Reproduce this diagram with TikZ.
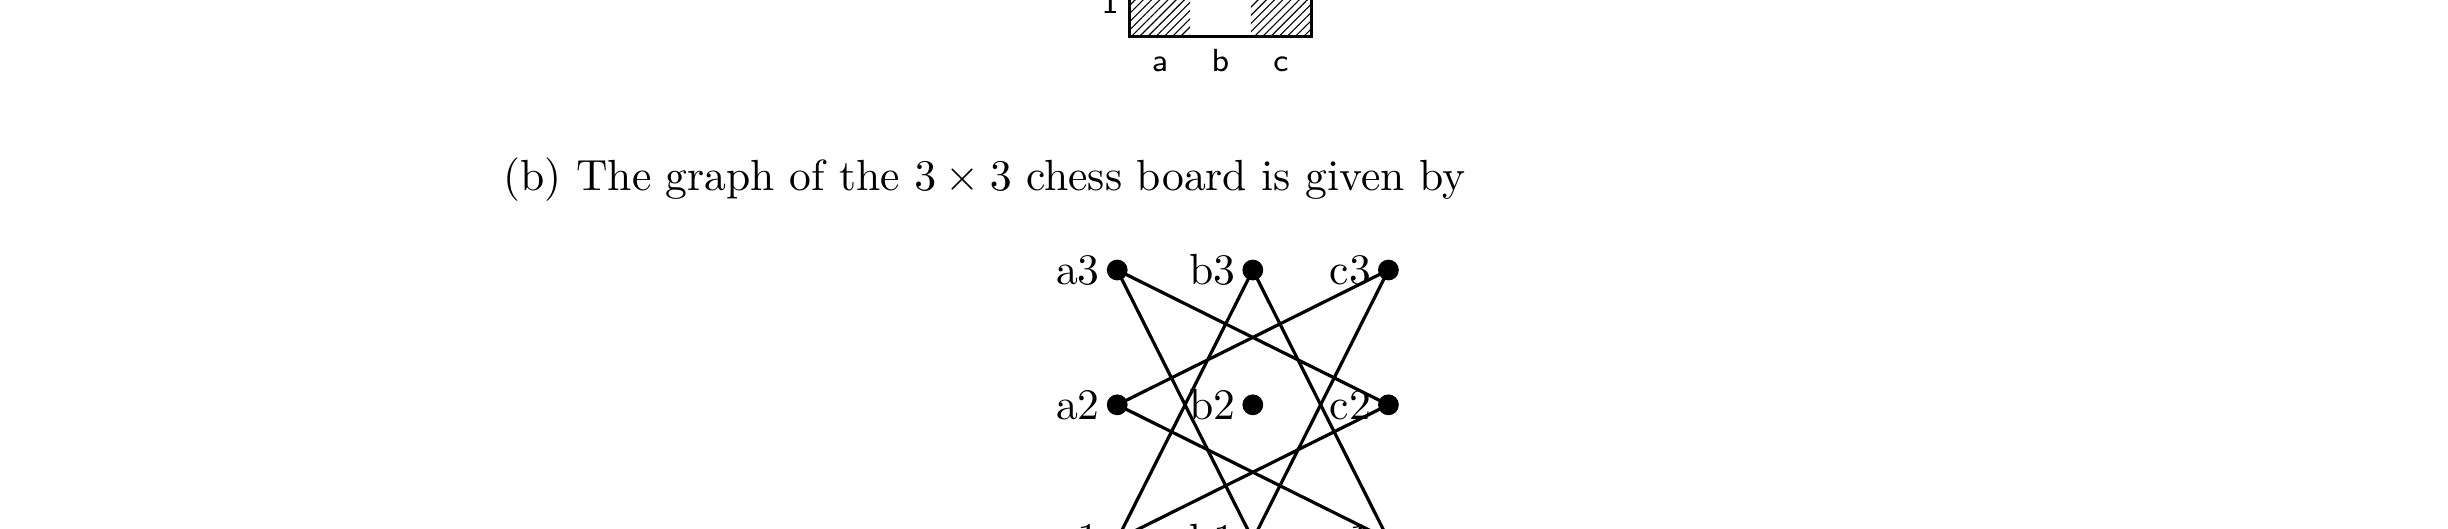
\documentclass[tikz,border=0pt]{standalone}
\usetikzlibrary{patterns.meta}
\begin{document}
\begin{tikzpicture}[x=1pt,y=1pt,
  font=\fontsize{10.9}{13.6}\selectfont,
  dot/.style={circle,fill=black,inner sep=0pt,minimum size=5.2pt},
  lab/.style={inner sep=1.4pt},
  edge/.style={line width=0.8pt},
  boardline/.style={line width=0.7pt},
  hatch/.style={pattern={Lines[angle=45,distance=1.45pt,line width=0.28pt]}},
  boardlabel/.style={font=\fontsize{8}{9.6}\sffamily\selectfont,inner sep=0pt}]
\useasboundingbox (0,0) rectangle (612,-132);
% board (partly visible)
\fill[hatch] (282.3,-9.17) rectangle (297.5,12);
\fill[hatch] (312.7,-9.17) rectangle (327.9,12);
\draw[boardline] (282.3,12) -- (282.3,-9.17) -- (327.9,-9.17) -- (327.9,12);
\node[boardlabel,anchor=base] (one) at (277.5,-3.4) {1};
\node[boardlabel,anchor=base] (la) at (290,-17.8) {a};
\node[boardlabel,anchor=base] (lb) at (305.1,-17.8) {b};
\node[boardlabel,anchor=base] (lc) at (320.2,-17.8) {c};
% text
\node[anchor=base west,inner sep=0pt] (txt) at (125.7,-47.5) {(b) The graph of the $3\times 3$ chess board is given by};
% graph
\node[dot,label={[lab]left:a3}] (a3) at (279.3,-67.5) {};
\node[dot,label={[lab]left:b3}] (b3) at (313.2,-67.5) {};
\node[dot,label={[lab]left:c3}] (c3) at (347.1,-67.5) {};
\node[dot,label={[lab]left:a2}] (a2) at (279.3,-101.2) {};
\node[dot,label={[lab]left:b2}] (b2) at (313.2,-101.2) {};
\node[dot,label={[lab]left:c2}] (c2) at (347.1,-101.2) {};
\node[dot,label={[lab]left:a1}] (a1) at (279.3,-134.9) {};
\node[dot,label={[lab]left:b1}] (b1) at (313.2,-134.9) {};
\node[dot,label={[lab]left:c1}] (c1) at (347.1,-134.9) {};
\draw[edge] (a3.center) -- (c2.center);
\draw[edge] (a3.center) -- (b1.center);
\draw[edge] (b3.center) -- (a1.center);
\draw[edge] (b3.center) -- (c1.center);
\draw[edge] (c3.center) -- (a2.center);
\draw[edge] (c3.center) -- (b1.center);
\draw[edge] (a2.center) -- (c1.center);
\draw[edge] (c2.center) -- (a1.center);
\end{tikzpicture}
\end{document}
